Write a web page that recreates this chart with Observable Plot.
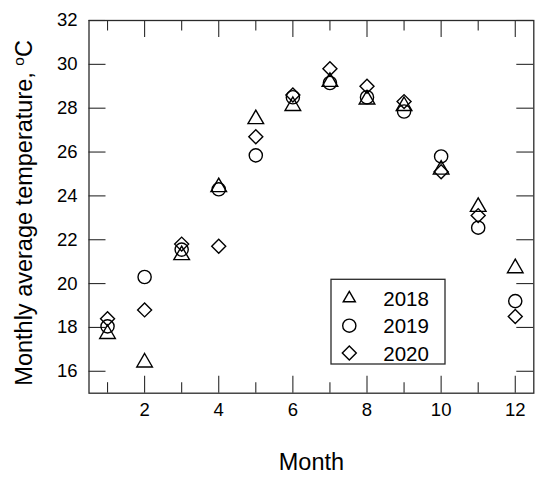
<!DOCTYPE html>
<html><head><meta charset="utf-8">
<script src="https://cdn.jsdelivr.net/npm/d3@7"></script>
<script src="https://cdn.jsdelivr.net/npm/@observablehq/plot@0.6"></script>
<style>body{margin:0;background:#fff}</style>
</head><body><div id="chart"></div>
<script>
const months = [1,2,3,4,5,6,7,8,9,10,11,12];
const t2018 = [17.7,16.4,21.3,24.4,27.5,28.1,29.2,28.4,28.1,25.2,23.5,20.7];
const t2019 = [18.05,20.3,21.55,24.3,25.85,28.5,29.15,28.5,27.85,25.8,22.55,19.2];
const t2020 = [18.4,18.8,21.8,21.7,26.7,28.6,29.8,29.0,28.3,25.1,23.1,18.5];
const years = ["2018","2019","2020"];
const series = [t2018, t2019, t2020];
const symbols = ["triangle","circle","diamond2"];
const radii = [5.8,6.6,6.3];
const xMajor = [2,4,6,8,10,12];
const xMinor = [1,3,5,7,9,11];
const yTicks = [16,18,20,22,24,26,28,30,32];
const xLabel = "Month";
const yLabel = "Monthly average temperature, °C";

const W=550,H=482,mL=88.5,mR=16.7,mT=20,mB=89.3;
const pH = H-mT-mB, pW = W-mL-mR;
const majorLen = 17, minorLen = 10.5;
const axisColor = "#2a2a2a";
const font = "'Liberation Sans', Arial, sans-serif";

const data = years.flatMap((yr,k)=>months.map((m,i)=>({month:m,temp:series[k][i],year:yr})));

const dotMarks = years.map((yr,k)=>Plot.dot(data.filter(d=>d.year===yr),{
  x:"month", y:"temp", symbol: symbols[k], r: radii[k], stroke:"#000", strokeWidth:1.4, fill:"none"
}));

const plot = Plot.plot({
  width:W, height:H, marginLeft:mL, marginRight:mR, marginTop:mT, marginBottom:mB,
  style:{fontFamily:font, background:"#fff", color:"#000"},
  x:{domain:[0.5,12.5], axis:null},
  y:{domain:[15,32], axis:null},
  marks:[
    Plot.ruleX(xMajor,{x:d=>d, insetTop:pH-majorLen, stroke:axisColor, strokeWidth:1.1}),
    Plot.ruleX(xMajor,{x:d=>d, insetBottom:pH-majorLen, stroke:axisColor, strokeWidth:1.1}),
    Plot.ruleX(xMinor,{x:d=>d, insetTop:pH-minorLen, stroke:axisColor, strokeWidth:1.1}),
    Plot.ruleX(xMinor,{x:d=>d, insetBottom:pH-minorLen, stroke:axisColor, strokeWidth:1.1}),
    Plot.ruleY(yTicks,{y:d=>d, insetRight:pW-majorLen, stroke:axisColor, strokeWidth:1.1}),
    Plot.ruleY(yTicks,{y:d=>d, insetLeft:pW-majorLen, stroke:axisColor, strokeWidth:1.1}),
    Plot.frame({stroke:axisColor, strokeWidth:1.3}),
    Plot.text(xMajor,{x:d=>d, text:d=>String(d), frameAnchor:"bottom", dy:22.3, fontSize:18.5, fill:"#000"}),
    Plot.text(yTicks,{y:d=>d, text:d=>String(d), frameAnchor:"left", textAnchor:"end", dx:-11.5, fontSize:18.5, fill:"#000"}),
    Plot.text([xLabel],{frameAnchor:"bottom", dy:76.5, fontSize:23.5, fill:"#000"}),
    Plot.text([yLabel],{frameAnchor:"left", textAnchor:"middle", rotate:-90, dx:-65, dy:6, fontSize:23.5, fill:"#000"}),
    ...dotMarks
  ]
});

const svg = d3.select(plot);
// superscript "o" in °C
svg.selectAll("text").filter(function(){return this.textContent===yLabel;}).each(function(){
  const t = d3.select(this);
  t.text(null);
  t.append("tspan").text("Monthly average temperature, ");
  t.append("tspan").attr("font-size","15.5px").attr("dy","-8").text("o");
  t.append("tspan").attr("dy","8").text("C");
});

// legend box
const lg = svg.append("g").attr("font-family",font).attr("text-anchor","start");
const bx = 331, by = 279.3, bw = 114, bh = 84.7;
lg.append("rect").attr("x",bx).attr("y",by).attr("width",bw).attr("height",bh)
  .attr("fill","#fff").attr("stroke",axisColor).attr("stroke-width",1.3);
const symMap = {triangle:d3.symbolTriangle2, circle:d3.symbolCircle, diamond2:d3.symbolDiamond2};
years.forEach((yr,k)=>{
  const cy = by + 19 + k*27.4;
  lg.append("path").attr("transform",`translate(${bx+18.3},${cy})`)
    .attr("d", d3.symbol(symMap[symbols[k]], Math.PI*radii[k]*radii[k])())
    .attr("fill","none").attr("stroke","#000").attr("stroke-width",1.4);
  lg.append("text").attr("x",bx+52.3).attr("y",cy+7.5).attr("font-size","20.5px")
    .attr("text-anchor","start").attr("fill","#000").text(yr);
});

document.getElementById("chart").appendChild(plot);
</script>
</body></html>
